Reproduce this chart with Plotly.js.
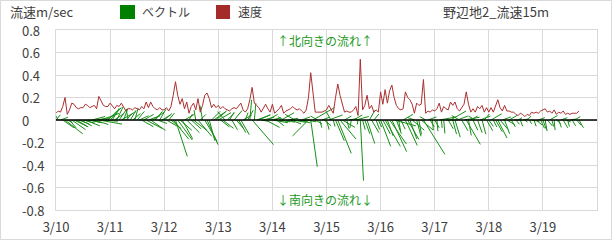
<!DOCTYPE html>
<html><head><meta charset="utf-8">
<script src="https://cdn.plot.ly/plotly-3.0.1.min.js"></script>
<style>html,body{margin:0;padding:0;background:#fff}#chart{width:612px;height:240px}</style>
</head><body><div id="chart"></div>
<script>
// x tick labels (one per day, hourly data starting 3/10 00:00)
const dayLabels = ['3/10','3/11','3/12','3/13','3/14','3/15','3/16','3/17','3/18','3/19'];
const yTickVals = [0.8,0.6,0.4,0.2,0,-0.2,-0.4,-0.6,-0.8];
const yTickText = ['0.8','0.6','0.4','0.2','0','-0.2','-0.4','-0.6','-0.8'];

// hourly current speed (m/sec)
const speed = [
 0.06,0.08,0.07,0.12,0.20,0.05,0.09,0.15,0.14,0.11,0.10,0.11,0.11,0.14,0.13,0.11,0.12,0.13,0.10,0.21,0.17,0.13,0.12,0.12,
 0.15,0.12,0.10,0.13,0.12,0.15,0.11,0.08,0.10,0.10,0.09,0.11,0.10,0.09,0.12,0.10,0.16,0.11,0.16,0.12,0.10,0.09,0.11,0.09,
 0.09,0.11,0.08,0.12,0.22,0.34,0.22,0.14,0.19,0.10,0.16,0.06,0.12,0.15,0.09,0.19,0.07,0.13,0.22,0.24,0.19,0.11,0.14,0.11,
 0.13,0.10,0.12,0.10,0.09,0.08,0.10,0.11,0.10,0.13,0.15,0.09,0.07,0.10,0.18,0.29,0.15,0.13,0.11,0.07,0.10,0.14,0.10,0.07,
 0.14,0.06,0.08,0.10,0.13,0.06,0.08,0.09,0.10,0.12,0.10,0.09,0.10,0.08,0.06,0.09,0.20,0.42,0.22,0.07,0.07,0.07,0.07,0.08,
 0.09,0.13,0.09,0.06,0.20,0.32,0.22,0.13,0.07,0.08,0.07,0.07,0.09,0.12,0.04,0.54,0.09,0.13,0.22,0.10,0.13,0.07,0.09,0.07,
 0.25,0.14,0.27,0.15,0.26,0.31,0.20,0.13,0.10,0.09,0.10,0.25,0.20,0.18,0.14,0.06,0.15,0.13,0.14,0.36,0.06,0.08,0.07,0.09,
 0.08,0.10,0.15,0.07,0.12,0.10,0.09,0.16,0.13,0.16,0.10,0.08,0.11,0.14,0.25,0.14,0.07,0.10,0.07,0.12,0.10,0.13,0.07,0.11,
 0.07,0.11,0.07,0.12,0.18,0.11,0.08,0.13,0.08,0.08,0.07,0.07,0.05,0.04,0.06,0.05,0.03,0.05,0.04,0.07,0.06,0.07,0.06,0.08,
 0.09,0.10,0.07,0.08,0.06,0.09,0.05,0.07,0.06,0.08,0.05,0.06,0.05,0.06,0.06,0.06,0.08
];
// hourly flow direction (degrees, toward, clockwise from north)
const direction = [
 40,330,70,125,128,115,140,125,116,120,110,118,105,112,100,103,75,108,80,100,70,95,60,45,
 42,30,55,25,35,60,20,45,350,30,50,15,40,65,120,60,118,70,125,55,40,110,30,60,
 50,120,40,130,141,162,144,131,151,60,135,30,132,128,350,140,45,350,150,156,165,45,55,50,
 60,128,128,318,45,30,150,40,140,150,150,60,20,30,5,139,5,70,65,100,75,118,60,80,
 100,70,130,100,60,300,105,80,110,100,300,95,105,70,90,100,225,172,60,120,300,165,70,130,
 165,70,330,165,157,158,140,120,60,165,80,190,60,75,190,177,165,160,162,30,150,40,160,155,
 159,152,150,160,145,155,105,160,170,155,60,155,150,160,130,290,165,170,130,148,300,70,150,175,
 150,175,80,175,175,90,150,60,165,163,70,300,150,80,150,170,60,155,300,160,70,165,40,150,
 145,60,153,150,153,140,70,160,120,60,150,90,140,60,160,80,130,45,150,100,160,130,70,155,
 160,170,140,60,165,175,130,160,70,150,110,165,80,150,60,140,150
];

const W=612,H=240,L=56,R=15,T=30,B=30;
const plotW=W-L-R, plotH=H-T-B;
const xRange=[0,240], yRange=[-0.8,0.8];
const pxPerHour = plotW/(xRange[1]-xRange[0]);
const pxPerMs = plotH/(yRange[1]-yRange[0]);
const hoursPerMs = pxPerMs/pxPerHour;

const hours = speed.map((_, i) => i);
const dayTicks = dayLabels.map((_, i) => i*24);

const sx=[], sy=[];
speed.forEach((s,i)=>{
  const a = direction[i]*Math.PI/180;
  const u = s*Math.sin(a), v = s*Math.cos(a);
  sx.push(hours[i], hours[i]+u*hoursPerMs, null);
  sy.push(0, v, null);
});

const px = x => (x-L)/plotW;
const py = y => (H-B-y)/plotH;
const FONT = '"Noto Sans CJK JP", "Noto Sans", sans-serif';
const TXT = '#404040';
const GREEN = '#008000';
const RED = '#A52A2A';

const traces = [
  {x:sx, y:sy, type:'scatter', mode:'lines', line:{color:'#178f17', width:1}, hoverinfo:'skip', showlegend:false},
  {x:hours, y:speed, type:'scatter', mode:'lines', line:{color:'#ab2f2f', width:1}, hoverinfo:'skip', showlegend:false}
];

// y tick labels: left aligned as in the reference
const yLabelAnn = yTickVals.map((v, i) => ({
  xref:'paper', yref:'y', x:px(20), y:v, xanchor:'left', yanchor:'middle',
  text:yTickText[i], showarrow:false, font:{size:13, color:TXT}
}));

const layout = {
  width:W, height:H,
  margin:{l:L, r:R, t:T, b:B, pad:0},
  paper_bgcolor:'#fff', plot_bgcolor:'#fff',
  font:{family:FONT, size:12, color:TXT},
  showlegend:false,
  xaxis:{range:xRange, tickvals:dayTicks, ticktext:dayLabels, showgrid:true, gridcolor:'#d9d9d9', gridwidth:1,
         zeroline:false, showline:true, mirror:true, linecolor:'#d9d9d9', linewidth:1,
         ticks:'outside', ticklen:5, tickcolor:'rgba(0,0,0,0)', tickfont:{size:13, color:TXT, family:FONT}},
  yaxis:{range:yRange, tickvals:yTickVals, showticklabels:false, showgrid:true, gridcolor:'#d9d9d9', gridwidth:1,
         zeroline:false, showline:true, mirror:true, linecolor:'#d9d9d9', linewidth:1, ticks:''},
  shapes:[
    {type:'line', xref:'paper', yref:'y', x0:0, x1:1, y0:0, y1:0, line:{color:'#000', width:1.5}, layer:'above'},
    {type:'rect', xref:'paper', yref:'paper', x0:px(120), x1:px(135), y0:py(19), y1:py(5), fillcolor:GREEN, line:{width:0}},
    {type:'rect', xref:'paper', yref:'paper', x0:px(216), x1:px(230), y0:py(19), y1:py(5), fillcolor:RED, line:{width:0}},
    {type:'rect', xref:'paper', yref:'paper', x0:px(0.5), x1:px(611.5), y0:py(239.5), y1:py(0.5), line:{color:'#d9d9d9', width:1}}
  ],
  annotations:yLabelAnn.concat([
    {xref:'paper', yref:'paper', x:px(8), y:py(12), xanchor:'left', yanchor:'middle', text:'流速m/sec', showarrow:false, font:{size:13, color:TXT}},
    {xref:'paper', yref:'paper', x:px(140), y:py(12), xanchor:'left', yanchor:'middle', text:'ベクトル', showarrow:false, font:{size:12, color:TXT}},
    {xref:'paper', yref:'paper', x:px(236), y:py(12), xanchor:'left', yanchor:'middle', text:'速度', showarrow:false, font:{size:12, color:TXT}},
    {xref:'paper', yref:'paper', x:px(551), y:py(12), xanchor:'right', yanchor:'middle', text:'野辺地2_流速15m', showarrow:false, font:{size:13, color:TXT}},
    {xref:'paper', yref:'paper', x:px(324.5), y:py(40), xanchor:'center', yanchor:'middle', text:'↑北向きの流れ↑', showarrow:false, font:{size:12, color:'#229922'}},
    {xref:'paper', yref:'paper', x:px(324.5), y:py(199), xanchor:'center', yanchor:'middle', text:'↓南向きの流れ↓', showarrow:false, font:{size:12, color:'#229922'}}
  ])
};

Plotly.newPlot('chart', traces, layout, {staticPlot:true, displayModeBar:false});
</script>
</body></html>
